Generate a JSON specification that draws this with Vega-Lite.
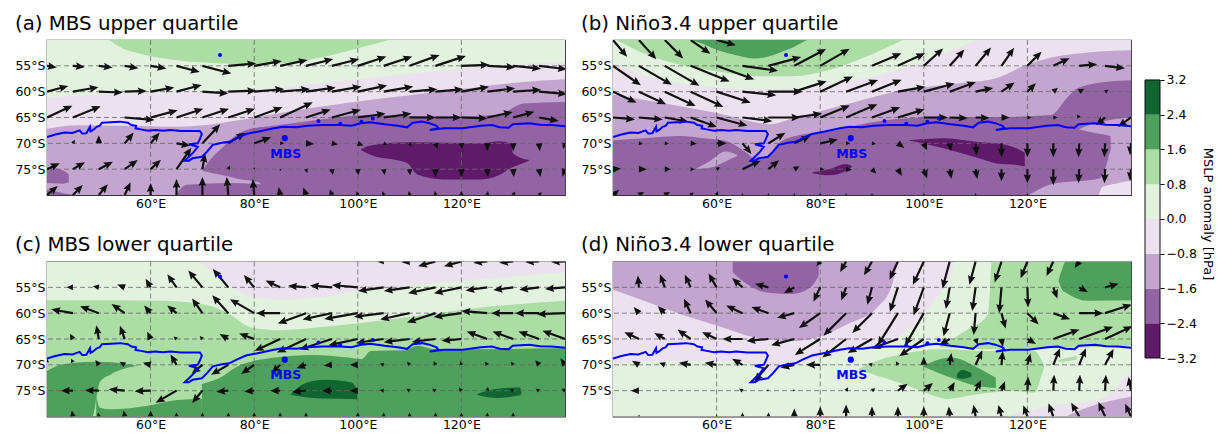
{"$schema":"https://vega.github.io/schema/vega-lite/v6.json","padding":{"left":14,"top":13,"right":2,"bottom":0},"background":"white","spacing":11,
"config":{"font":"DejaVu Sans","view":{"stroke":"#333","strokeWidth":1.2},"title":{"anchor":"start","fontSize":19.8,"fontWeight":"normal","offset":6,"color":"#000"},"axis":{"labelFontSize":12.5,"labelOverlap":false,"ticks":false,"domain":false,"grid":false,"labelColor":"#000"}},
"datasets":{
"coast":[{"i":0,"lon":40,"lat":-68.8},{"i":1,"lon":41.6,"lat":-68.3},{"i":2,"lon":43.4,"lat":-67.9},{"i":3,"lon":44.9,"lat":-68},{"i":4,"lon":46.3,"lat":-67.5},{"i":5,"lon":46.8,"lat":-68.1},{"i":6,"lon":47.6,"lat":-68.06},{"i":7,"lon":48.3,"lat":-66.8},{"i":8,"lon":48.4,"lat":-67.7},{"i":9,"lon":48.9,"lat":-67.4},{"i":10,"lon":49.6,"lat":-66.8},{"i":11,"lon":50.2,"lat":-66.6},{"i":12,"lon":50.6,"lat":-66},{"i":13,"lon":52.4,"lat":-65.9},{"i":14,"lon":54.1,"lat":-65.8},{"i":15,"lon":55.6,"lat":-66},{"i":16,"lon":56.3,"lat":-66.45},{"i":17,"lon":57.2,"lat":-66.6},{"i":18,"lon":57.1,"lat":-67.1},{"i":19,"lon":58.1,"lat":-67.3},{"i":20,"lon":59.5,"lat":-67.55},{"i":21,"lon":60.9,"lat":-67.4},{"i":22,"lon":62.4,"lat":-67.55},{"i":23,"lon":63.8,"lat":-67.4},{"i":24,"lon":65.9,"lat":-67.6},{"i":25,"lon":68.1,"lat":-67.6},{"i":26,"lon":69.5,"lat":-67.6},{"i":27,"lon":69.9,"lat":-68.2},{"i":28,"lon":69.5,"lat":-69.2},{"i":29,"lon":69.1,"lat":-70},{"i":30,"lon":67.4,"lat":-70.2},{"i":31,"lon":68.4,"lat":-70.45},{"i":32,"lon":69.1,"lat":-70.65},{"i":33,"lon":68.4,"lat":-71.6},{"i":34,"lon":67.4,"lat":-72.6},{"i":35,"lon":66.6,"lat":-73.35},{"i":36,"lon":67.4,"lat":-73.35},{"i":37,"lon":68.1,"lat":-72.9},{"i":38,"lon":69.9,"lat":-72.6},{"i":39,"lon":70.9,"lat":-71.6},{"i":40,"lon":72,"lat":-70.3},{"i":41,"lon":73.8,"lat":-69.9},{"i":42,"lon":75.2,"lat":-69.7},{"i":43,"lon":76.6,"lat":-69},{"i":44,"lon":78.4,"lat":-68.2},{"i":45,"lon":80.9,"lat":-67.7},{"i":46,"lon":83.8,"lat":-67.1},{"i":47,"lon":85.6,"lat":-66.8},{"i":48,"lon":88.1,"lat":-66.9},{"i":49,"lon":90.2,"lat":-66.6},{"i":50,"lon":93.1,"lat":-66.45},{"i":51,"lon":96.6,"lat":-66.45},{"i":52,"lon":98.8,"lat":-66.6},{"i":53,"lon":100.6,"lat":-66.1},{"i":54,"lon":102.4,"lat":-65.9},{"i":55,"lon":105.2,"lat":-66.3},{"i":56,"lon":107.7,"lat":-66.6},{"i":57,"lon":109.5,"lat":-66.9},{"i":58,"lon":110.6,"lat":-66},{"i":59,"lon":112.4,"lat":-65.8},{"i":60,"lon":113.8,"lat":-66.1},{"i":61,"lon":115.2,"lat":-66.6},{"i":62,"lon":115.6,"lat":-67.1},{"i":63,"lon":113.9,"lat":-67.4},{"i":64,"lon":116.6,"lat":-67.1},{"i":65,"lon":120.2,"lat":-67.1},{"i":66,"lon":123.8,"lat":-66.6},{"i":67,"lon":125.9,"lat":-66.45},{"i":68,"lon":127.4,"lat":-66.9},{"i":69,"lon":129.1,"lat":-67},{"i":70,"lon":129.9,"lat":-66.3},{"i":71,"lon":133.1,"lat":-66.1},{"i":72,"lon":135.2,"lat":-66.4},{"i":73,"lon":137.4,"lat":-66.45},{"i":74,"lon":140,"lat":-66.7}],
"isl":[{"lon":73.4,"lat":-52.9},{"lon":92.4,"lat":-65.7},{"lon":96.6,"lat":-66.2},{"lon":100.7,"lat":-65.8},{"lon":102.9,"lat":-65.2}],
"mbs":[{"lon":85.9,"lat":-69.0}],
"mbsl":[{"lon":86.1,"lat":-72.05,"label":"MBS"}],
"gx":[{"lon":60},{"lon":80},{"lon":100},{"lon":120}],
"gy":[{"lat":-55},{"lat":-60},{"lat":-65},{"lat":-70},{"lat":-75}],
"bar":[{"v":"n4","lo":-3.2,"hi":-2.4},{"v":"n3","lo":-2.4,"hi":-1.6},{"v":"n2","lo":-1.6,"hi":-0.8},{"v":"n1","lo":-0.8,"hi":0},{"v":"p1","lo":0,"hi":0.8},{"v":"p2","lo":0.8,"hi":1.6},{"v":"p3","lo":1.6,"hi":2.4},{"v":"p4","lo":2.4,"hi":3.2}],
"frame":[{"lo":-3.2,"hi":3.2}],
"fa":[{"r":1,"v":"p1","lon":40,"lat":-50,"lat2":-80},{"r":1,"v":"p1","lon":140,"lat":-50,"lat2":-80},
{"r":2,"v":"p2","lon":52,"lat":-50,"lat2":-50},{"r":2,"v":"p2","lon":54,"lat":-50,"lat2":-51.3},{"r":2,"v":"p2","lon":59,"lat":-50,"lat2":-52.9},{"r":2,"v":"p2","lon":66,"lat":-50,"lat2":-54},{"r":2,"v":"p2","lon":73,"lat":-50,"lat2":-54.5},{"r":2,"v":"p2","lon":80,"lat":-50,"lat2":-54.7},{"r":2,"v":"p2","lon":88,"lat":-50,"lat2":-54.2},{"r":2,"v":"p2","lon":95,"lat":-50,"lat2":-52.9},{"r":2,"v":"p2","lon":100,"lat":-50,"lat2":-51.6},{"r":2,"v":"p2","lon":106,"lat":-50,"lat2":-50},
{"r":3,"v":"n1","lon":40,"lat":-61.2,"lat2":-80},{"r":3,"v":"n1","lon":50,"lat":-60.5,"lat2":-80},{"r":3,"v":"n1","lon":60,"lat":-60.2,"lat2":-80},{"r":3,"v":"n1","lon":70,"lat":-60,"lat2":-80},{"r":3,"v":"n1","lon":81,"lat":-59.5,"lat2":-80},{"r":3,"v":"n1","lon":90,"lat":-58.6,"lat2":-80},{"r":3,"v":"n1","lon":102,"lat":-57.4,"lat2":-80},{"r":3,"v":"n1","lon":120,"lat":-55.5,"lat2":-80},{"r":3,"v":"n1","lon":130,"lat":-54.7,"lat2":-80},{"r":3,"v":"n1","lon":140,"lat":-54.2,"lat2":-80},
{"r":4,"v":"n2","lon":40,"lat":-67.2,"lat2":-80},{"r":4,"v":"n2","lon":46,"lat":-66.5,"lat2":-80},{"r":4,"v":"n2","lon":55,"lat":-66.6,"lat2":-80},{"r":4,"v":"n2","lon":65,"lat":-66.8,"lat2":-80},{"r":4,"v":"n2","lon":72,"lat":-66.3,"lat2":-80},{"r":4,"v":"n2","lon":80,"lat":-65,"lat2":-80},{"r":4,"v":"n2","lon":90,"lat":-63.3,"lat2":-80},{"r":4,"v":"n2","lon":100,"lat":-61.9,"lat2":-80},{"r":4,"v":"n2","lon":110,"lat":-60.7,"lat2":-80},{"r":4,"v":"n2","lon":120,"lat":-59.5,"lat2":-80},{"r":4,"v":"n2","lon":130,"lat":-58.3,"lat2":-80},{"r":4,"v":"n2","lon":140,"lat":-57.6,"lat2":-80},
{"r":5,"v":"n3","lon":70,"lat":-75.2,"lat2":-75.3},{"r":5,"v":"n3","lon":72,"lat":-72.6,"lat2":-75.8},{"r":5,"v":"n3","lon":74,"lat":-70.7,"lat2":-76.2},{"r":5,"v":"n3","lon":77,"lat":-68.1,"lat2":-76.9},{"r":5,"v":"n3","lon":81,"lat":-66.9,"lat2":-77.6},{"r":5,"v":"n3","lon":82,"lat":-66.8,"lat2":-80},{"r":5,"v":"n3","lon":92,"lat":-65.5,"lat2":-80},{"r":5,"v":"n3","lon":102,"lat":-64.5,"lat2":-80},{"r":5,"v":"n3","lon":116,"lat":-64.8,"lat2":-80},{"r":5,"v":"n3","lon":127,"lat":-64.5,"lat2":-80},{"r":5,"v":"n3","lon":132,"lat":-62.3,"lat2":-80},{"r":5,"v":"n3","lon":140,"lat":-62,"lat2":-80},
{"r":6,"v":"n3","lon":65,"lat":-79.7,"lat2":-80},{"r":6,"v":"n3","lon":67,"lat":-78,"lat2":-80},{"r":6,"v":"n3","lon":75,"lat":-77.7,"lat2":-80},{"r":6,"v":"n3","lon":82,"lat":-78,"lat2":-80},
{"r":7,"v":"n3","lon":40,"lat":-74.7,"lat2":-77.7},{"r":7,"v":"n3","lon":43,"lat":-75.2,"lat2":-77.8},{"r":7,"v":"n3","lon":44.2,"lat":-76,"lat2":-77.6},
{"r":8,"v":"n3","lon":40,"lat":-79,"lat2":-80},{"r":8,"v":"n3","lon":45,"lat":-80,"lat2":-80},
{"r":9,"v":"n4","lon":100.6,"lat":-71.2,"lat2":-71.3},{"r":9,"v":"n4","lon":102.4,"lat":-70.4,"lat2":-72.2},{"r":9,"v":"n4","lon":109.5,"lat":-69.8,"lat2":-73.8},{"r":9,"v":"n4","lon":111.6,"lat":-69.8,"lat2":-76.1},{"r":9,"v":"n4","lon":116.6,"lat":-69.9,"lat2":-77},{"r":9,"v":"n4","lon":123.8,"lat":-70,"lat2":-77},{"r":9,"v":"n4","lon":127.4,"lat":-69.6,"lat2":-76.1},{"r":9,"v":"n4","lon":129.5,"lat":-70.1,"lat2":-74.8},{"r":9,"v":"n4","lon":130,"lat":-72,"lat2":-74.6},{"r":9,"v":"n4","lon":133,"lat":-73.2,"lat2":-73.4}],
"fb":[{"r":1,"v":"n1","lon":40,"lat":-50,"lat2":-80},{"r":1,"v":"n1","lon":140,"lat":-50,"lat2":-80},
{"r":2,"v":"p1","lon":40,"lat":-50,"lat2":-54.5},{"r":2,"v":"p1","lon":46,"lat":-50,"lat2":-56.8},{"r":2,"v":"p1","lon":53.1,"lat":-50,"lat2":-58.4},{"r":2,"v":"p1","lon":60.3,"lat":-50,"lat2":-59.2},{"r":2,"v":"p1","lon":67.4,"lat":-50,"lat2":-59.6},{"r":2,"v":"p1","lon":74.6,"lat":-50,"lat2":-59.4},{"r":2,"v":"p1","lon":81.7,"lat":-50,"lat2":-58.5},{"r":2,"v":"p1","lon":88.9,"lat":-50,"lat2":-57.4},{"r":2,"v":"p1","lon":96,"lat":-50,"lat2":-55.5},{"r":2,"v":"p1","lon":103.1,"lat":-50,"lat2":-52.9},{"r":2,"v":"p1","lon":110.3,"lat":-50,"lat2":-50},
{"r":3,"v":"p2","lon":40.6,"lat":-50,"lat2":-50},{"r":3,"v":"p2","lon":46,"lat":-50,"lat2":-52.6},{"r":3,"v":"p2","lon":53,"lat":-50,"lat2":-54.8},{"r":3,"v":"p2","lon":60.3,"lat":-50,"lat2":-56.1},{"r":3,"v":"p2","lon":67.4,"lat":-50,"lat2":-57},{"r":3,"v":"p2","lon":74.6,"lat":-50,"lat2":-57},{"r":3,"v":"p2","lon":81.7,"lat":-50,"lat2":-55.8},{"r":3,"v":"p2","lon":88.9,"lat":-50,"lat2":-53.2},{"r":3,"v":"p2","lon":96,"lat":-50,"lat2":-50},
{"r":4,"v":"p3","lon":55.3,"lat":-50,"lat2":-50},{"r":4,"v":"p3","lon":58,"lat":-50,"lat2":-51},{"r":4,"v":"p3","lon":60.3,"lat":-50,"lat2":-52},{"r":4,"v":"p3","lon":64,"lat":-50,"lat2":-53},{"r":4,"v":"p3","lon":67.4,"lat":-50,"lat2":-53.6},{"r":4,"v":"p3","lon":70,"lat":-50,"lat2":-53.2},{"r":4,"v":"p3","lon":72,"lat":-50,"lat2":-52.5},{"r":4,"v":"p3","lon":75,"lat":-50,"lat2":-51.3},{"r":4,"v":"p3","lon":77.4,"lat":-50,"lat2":-50},
{"r":5,"v":"n2","lon":40,"lat":-60.6,"lat2":-80},{"r":5,"v":"n2","lon":53,"lat":-62.8,"lat2":-80},{"r":5,"v":"n2","lon":60.3,"lat":-64.2,"lat2":-80},{"r":5,"v":"n2","lon":67.4,"lat":-65.9,"lat2":-80},{"r":5,"v":"n2","lon":70.3,"lat":-66.3,"lat2":-80},{"r":5,"v":"n2","lon":74.6,"lat":-65.2,"lat2":-80},{"r":5,"v":"n2","lon":85.3,"lat":-62.4,"lat2":-80},{"r":5,"v":"n2","lon":96,"lat":-59.7,"lat2":-80},{"r":5,"v":"n2","lon":106.7,"lat":-58.4,"lat2":-80},{"r":5,"v":"n2","lon":113.9,"lat":-57.4,"lat2":-80},{"r":5,"v":"n2","lon":118.9,"lat":-55.2,"lat2":-80},{"r":5,"v":"n2","lon":124.6,"lat":-53.4,"lat2":-80},{"r":5,"v":"n2","lon":131.7,"lat":-52.4,"lat2":-80},{"r":5,"v":"n2","lon":140,"lat":-52,"lat2":-80},
{"r":6,"v":"n3","lon":40,"lat":-69.4,"lat2":-80},{"r":6,"v":"n3","lon":46,"lat":-69,"lat2":-80},{"r":6,"v":"n3","lon":53,"lat":-68.6,"lat2":-80},{"r":6,"v":"n3","lon":57.5,"lat":-69,"lat2":-80},{"r":6,"v":"n3","lon":62,"lat":-69.6,"lat2":-80},{"r":6,"v":"n3","lon":63.8,"lat":-70.5,"lat2":-80},{"r":6,"v":"n3","lon":66,"lat":-72,"lat2":-80},{"r":6,"v":"n3","lon":67.4,"lat":-73,"lat2":-80},{"r":6,"v":"n3","lon":70,"lat":-72.5,"lat2":-80},{"r":6,"v":"n3","lon":71.7,"lat":-70.2,"lat2":-80},{"r":6,"v":"n3","lon":76,"lat":-68.4,"lat2":-80},{"r":6,"v":"n3","lon":81.7,"lat":-67.7,"lat2":-80},{"r":6,"v":"n3","lon":88.9,"lat":-66.1,"lat2":-80},{"r":6,"v":"n3","lon":96,"lat":-65.2,"lat2":-80},{"r":6,"v":"n3","lon":103,"lat":-64.9,"lat2":-80},{"r":6,"v":"n3","lon":113.9,"lat":-64.9,"lat2":-80},{"r":6,"v":"n3","lon":124.6,"lat":-64.5,"lat2":-80},{"r":6,"v":"n3","lon":127.4,"lat":-61.5,"lat2":-80},{"r":6,"v":"n3","lon":129.6,"lat":-59.4,"lat2":-80},{"r":6,"v":"n3","lon":135.3,"lat":-58.1,"lat2":-80},{"r":6,"v":"n3","lon":140,"lat":-57.8,"lat2":-80},
{"r":7,"v":"n2","lon":129.9,"lat":-67.3,"lat2":-67.3},{"r":7,"v":"n2","lon":133.1,"lat":-66,"lat2":-68},{"r":7,"v":"n2","lon":136,"lat":-65.5,"lat2":-68.6},{"r":7,"v":"n2","lon":136.4,"lat":-65.4,"lat2":-80},{"r":7,"v":"n2","lon":140,"lat":-65,"lat2":-80},
{"r":8,"v":"n2","lon":120.3,"lat":-80,"lat2":-80},{"r":8,"v":"n2","lon":124.6,"lat":-77.9,"lat2":-80},{"r":8,"v":"n2","lon":133.9,"lat":-76.8,"lat2":-80},{"r":8,"v":"n2","lon":135,"lat":-75,"lat2":-80},{"r":8,"v":"n2","lon":136,"lat":-71.5,"lat2":-80},{"r":8,"v":"n2","lon":136.5,"lat":-70,"lat2":-80},
{"r":9,"v":"n1","lon":133.8,"lat":-80,"lat2":-80},{"r":9,"v":"n1","lon":134.5,"lat":-78.4,"lat2":-80},{"r":9,"v":"n1","lon":137,"lat":-77.8,"lat2":-80},{"r":9,"v":"n1","lon":140,"lat":-77.2,"lat2":-80},
{"r":10,"v":"n2","lon":56,"lat":-74.9,"lat2":-75},{"r":10,"v":"n2","lon":58.9,"lat":-73.3,"lat2":-74.7},{"r":10,"v":"n2","lon":61.7,"lat":-71.6,"lat2":-73.5},{"r":10,"v":"n2","lon":63.9,"lat":-72.2,"lat2":-72.5},
{"r":11,"v":"n4","lon":97,"lat":-69.4,"lat2":-69.4},{"r":11,"v":"n4","lon":104,"lat":-69,"lat2":-71},{"r":11,"v":"n4","lon":111,"lat":-69.8,"lat2":-73},{"r":11,"v":"n4","lon":114,"lat":-70,"lat2":-73.9},{"r":11,"v":"n4","lon":118,"lat":-71,"lat2":-74.2},{"r":11,"v":"n4","lon":119.5,"lat":-71.8,"lat2":-74.5},
{"r":12,"v":"n4","lon":78.5,"lat":-75.6,"lat2":-75.8},{"r":12,"v":"n4","lon":81.7,"lat":-75,"lat2":-76.2},{"r":12,"v":"n4","lon":85,"lat":-74,"lat2":-75.3},{"r":12,"v":"n4","lon":86.1,"lat":-74.4,"lat2":-74.6}],
"fc":[{"r":1,"v":"p2","lon":40,"lat":-50,"lat2":-80},{"r":1,"v":"p2","lon":140,"lat":-50,"lat2":-80},
{"r":2,"v":"p1","lon":40,"lat":-50,"lat2":-57.5},{"r":2,"v":"p1","lon":52.4,"lat":-50,"lat2":-57.5},{"r":2,"v":"p1","lon":63.1,"lat":-50,"lat2":-57.6},{"r":2,"v":"p1","lon":71.6,"lat":-50,"lat2":-58.6},{"r":2,"v":"p1","lon":75.2,"lat":-50,"lat2":-60.2},{"r":2,"v":"p1","lon":79.5,"lat":-50,"lat2":-62.8},{"r":2,"v":"p1","lon":84.5,"lat":-50,"lat2":-63.3},{"r":2,"v":"p1","lon":95.2,"lat":-50,"lat2":-62.5},{"r":2,"v":"p1","lon":109.5,"lat":-50,"lat2":-60.8},{"r":2,"v":"p1","lon":123.8,"lat":-50,"lat2":-58.9},{"r":2,"v":"p1","lon":140,"lat":-50,"lat2":-57.6},
{"r":3,"v":"n1","lon":69.5,"lat":-50,"lat2":-50},{"r":3,"v":"n1","lon":73.8,"lat":-50,"lat2":-53.7},{"r":3,"v":"n1","lon":78.1,"lat":-50,"lat2":-56.3},{"r":3,"v":"n1","lon":84.5,"lat":-50,"lat2":-57.4},{"r":3,"v":"n1","lon":91.6,"lat":-50,"lat2":-57},{"r":3,"v":"n1","lon":102.4,"lat":-50,"lat2":-55.3},{"r":3,"v":"n1","lon":113.1,"lat":-50,"lat2":-54.4},{"r":3,"v":"n1","lon":123.8,"lat":-50,"lat2":-53.4},{"r":3,"v":"n1","lon":140,"lat":-50,"lat2":-52.1},
{"r":4,"v":"p3","lon":40,"lat":-71.2,"lat2":-80},{"r":4,"v":"p3","lon":43.1,"lat":-69.9,"lat2":-80},{"r":4,"v":"p3","lon":48.8,"lat":-69.4,"lat2":-80},{"r":4,"v":"p3","lon":49.6,"lat":-69.4,"lat2":-76},{"r":4,"v":"p3","lon":50.2,"lat":-69.4,"lat2":-73.3},{"r":4,"v":"p3","lon":52.4,"lat":-69.5,"lat2":-71.8},{"r":4,"v":"p3","lon":57.4,"lat":-70.2,"lat2":-70.2},
{"r":5,"v":"p3","lon":49.5,"lat":-76,"lat2":-80},{"r":5,"v":"p3","lon":50.2,"lat":-78.3,"lat2":-80},{"r":5,"v":"p3","lon":52.4,"lat":-78.6,"lat2":-80},{"r":5,"v":"p3","lon":59.5,"lat":-77.9,"lat2":-80},{"r":5,"v":"p3","lon":65.2,"lat":-76.8,"lat2":-80},{"r":5,"v":"p3","lon":69.9,"lat":-76.6,"lat2":-80},
{"r":6,"v":"p3","lon":69.9,"lat":-73.7,"lat2":-80},{"r":6,"v":"p3","lon":73.4,"lat":-72.5,"lat2":-80},{"r":6,"v":"p3","lon":77,"lat":-70.2,"lat2":-80},{"r":6,"v":"p3","lon":84,"lat":-68.6,"lat2":-80},{"r":6,"v":"p3","lon":91.2,"lat":-68.1,"lat2":-80},{"r":6,"v":"p3","lon":98.2,"lat":-68.6,"lat2":-80},{"r":6,"v":"p3","lon":100.7,"lat":-68.9,"lat2":-80},{"r":6,"v":"p3","lon":102.5,"lat":-67.3,"lat2":-80},{"r":6,"v":"p3","lon":109,"lat":-67.2,"lat2":-80},{"r":6,"v":"p3","lon":111.5,"lat":-66.3,"lat2":-80},{"r":6,"v":"p3","lon":115,"lat":-67,"lat2":-80},{"r":6,"v":"p3","lon":140,"lat":-66.8,"lat2":-80},
{"r":7,"v":"p4","lon":87,"lat":-75.7,"lat2":-75.8},{"r":7,"v":"p4","lon":90.2,"lat":-73.4,"lat2":-76.3},{"r":7,"v":"p4","lon":93.8,"lat":-72.9,"lat2":-76.5},{"r":7,"v":"p4","lon":98.8,"lat":-73.4,"lat2":-76.6},{"r":7,"v":"p4","lon":99.9,"lat":-74.9,"lat2":-76.7},
{"r":8,"v":"p4","lon":123,"lat":-75.7,"lat2":-75.8},{"r":8,"v":"p4","lon":126.6,"lat":-74.7,"lat2":-76.4},{"r":8,"v":"p4","lon":131.3,"lat":-74.4,"lat2":-75.9},{"r":8,"v":"p4","lon":131.6,"lat":-75.3,"lat2":-75.4}],
"fd":[{"r":1,"v":"n1","lon":40,"lat":-50,"lat2":-80},{"r":1,"v":"n1","lon":140,"lat":-50,"lat2":-80},
{"r":2,"v":"n2","lon":40,"lat":-50,"lat2":-55.4},{"r":2,"v":"n2","lon":46,"lat":-50,"lat2":-57.6},{"r":2,"v":"n2","lon":53.1,"lat":-50,"lat2":-60.2},{"r":2,"v":"n2","lon":60.3,"lat":-50,"lat2":-62.5},{"r":2,"v":"n2","lon":67.4,"lat":-50,"lat2":-64.7},{"r":2,"v":"n2","lon":74.6,"lat":-50,"lat2":-65.4},{"r":2,"v":"n2","lon":80.3,"lat":-50,"lat2":-64.4},{"r":2,"v":"n2","lon":85.3,"lat":-50,"lat2":-62.1},{"r":2,"v":"n2","lon":91,"lat":-50,"lat2":-58.9},{"r":2,"v":"n2","lon":93.9,"lat":-50,"lat2":-54.4},{"r":2,"v":"n2","lon":95,"lat":-50,"lat2":-50},
{"r":3,"v":"n3","lon":63.1,"lat":-50,"lat2":-52.1},{"r":3,"v":"n3","lon":65.9,"lat":-50,"lat2":-54.4},{"r":3,"v":"n3","lon":69.6,"lat":-50,"lat2":-56},{"r":3,"v":"n3","lon":74.6,"lat":-50,"lat2":-56.3},{"r":3,"v":"n3","lon":78.1,"lat":-50,"lat2":-55},{"r":3,"v":"n3","lon":79.7,"lat":-50,"lat2":-52.8},
{"r":4,"v":"p1","lon":40,"lat":-69.7,"lat2":-80},{"r":4,"v":"p1","lon":53,"lat":-69.2,"lat2":-80},{"r":4,"v":"p1","lon":60,"lat":-69.2,"lat2":-80},{"r":4,"v":"p1","lon":66,"lat":-69.6,"lat2":-80},{"r":4,"v":"p1","lon":70,"lat":-71.5,"lat2":-80},{"r":4,"v":"p1","lon":72,"lat":-70.9,"lat2":-80},{"r":4,"v":"p1","lon":76,"lat":-69.9,"lat2":-80},{"r":4,"v":"p1","lon":80.3,"lat":-68.6,"lat2":-80},{"r":4,"v":"p1","lon":85.3,"lat":-67.3,"lat2":-80},{"r":4,"v":"p1","lon":90,"lat":-66.3,"lat2":-80},{"r":4,"v":"p1","lon":94,"lat":-65.4,"lat2":-80},{"r":4,"v":"p1","lon":97,"lat":-63.1,"lat2":-80},{"r":4,"v":"p1","lon":99.9,"lat":-60.2,"lat2":-80},{"r":4,"v":"p1","lon":102.7,"lat":-56.6,"lat2":-80},{"r":4,"v":"p1","lon":105,"lat":-53.1,"lat2":-80},{"r":4,"v":"p1","lon":106,"lat":-50,"lat2":-80},{"r":4,"v":"p1","lon":140,"lat":-50,"lat2":-80},
{"r":5,"v":"n1","lon":115.8,"lat":-80,"lat2":-80},{"r":5,"v":"n1","lon":124.6,"lat":-77.9,"lat2":-80},{"r":5,"v":"n1","lon":133.1,"lat":-76.8,"lat2":-80},{"r":5,"v":"n1","lon":136.7,"lat":-75,"lat2":-80},{"r":5,"v":"n1","lon":138.1,"lat":-73.1,"lat2":-80},{"r":5,"v":"n1","lon":140,"lat":-71.8,"lat2":-80},
{"r":6,"v":"n2","lon":127.4,"lat":-80,"lat2":-80},{"r":6,"v":"n2","lon":131.7,"lat":-78.2,"lat2":-80},{"r":6,"v":"n2","lon":140,"lat":-76.2,"lat2":-80},
{"r":7,"v":"p2","lon":103.1,"lat":-66.3,"lat2":-66.6},{"r":7,"v":"p2","lon":108.1,"lat":-63.4,"lat2":-66.8},{"r":7,"v":"p2","lon":112.4,"lat":-60.2,"lat2":-67},{"r":7,"v":"p2","lon":112.8,"lat":-55,"lat2":-67},{"r":7,"v":"p2","lon":113.1,"lat":-50,"lat2":-67},{"r":7,"v":"p2","lon":140,"lat":-50,"lat2":-66.3},
{"r":8,"v":"p2","lon":87.4,"lat":-70.8,"lat2":-70.9},{"r":8,"v":"p2","lon":91,"lat":-69.2,"lat2":-72.1},{"r":8,"v":"p2","lon":96,"lat":-67.9,"lat2":-73.7},{"r":8,"v":"p2","lon":103.1,"lat":-67,"lat2":-76.3},{"r":8,"v":"p2","lon":104.6,"lat":-67,"lat2":-76.6},{"r":8,"v":"p2","lon":110.3,"lat":-67.3,"lat2":-75.7},{"r":8,"v":"p2","lon":117.4,"lat":-67.3,"lat2":-75},{"r":8,"v":"p2","lon":121.4,"lat":-67.3,"lat2":-75.4},{"r":8,"v":"p2","lon":122.8,"lat":-69.2,"lat2":-71.8},{"r":8,"v":"p2","lon":123.2,"lat":-70,"lat2":-70.6},
{"r":9,"v":"p2","lon":126,"lat":-69,"lat2":-69.5},{"r":9,"v":"p2","lon":129.5,"lat":-68.3,"lat2":-69},
{"r":10,"v":"p3","lon":126,"lat":-53.7,"lat2":-53.7},{"r":10,"v":"p3","lon":126.7,"lat":-51.5,"lat2":-55.5},{"r":10,"v":"p3","lon":127.4,"lat":-50,"lat2":-56},{"r":10,"v":"p3","lon":131.7,"lat":-50,"lat2":-57.6},{"r":10,"v":"p3","lon":140,"lat":-50,"lat2":-57.5},
{"r":11,"v":"p3","lon":99.9,"lat":-70.2,"lat2":-70.3},{"r":11,"v":"p3","lon":105.3,"lat":-68.6,"lat2":-72.5},{"r":11,"v":"p3","lon":110.3,"lat":-70.5,"lat2":-74.1},{"r":11,"v":"p3","lon":113.9,"lat":-72.5,"lat2":-74.5},
{"r":12,"v":"p4","lon":106.4,"lat":-71.8,"lat2":-72.5},{"r":12,"v":"p4","lon":107.4,"lat":-71,"lat2":-72.7},{"r":12,"v":"p4","lon":109.2,"lat":-71.6,"lat2":-72.3}],
"qa":[{"lon":40,"lat":-55,"ang":100,"len":10},{"lon":45,"lat":-55,"ang":95,"len":12},{"lon":50,"lat":-55,"ang":97,"len":14},{"lon":55,"lat":-55,"ang":100,"len":14},{"lon":60,"lat":-55,"ang":100,"len":16},{"lon":65,"lat":-55,"ang":105,"len":24},{"lon":70,"lat":-55,"ang":105,"len":30},{"lon":75,"lat":-55,"ang":85,"len":28},{"lon":80,"lat":-55,"ang":80,"len":28},{"lon":85,"lat":-55,"ang":78,"len":28},{"lon":90,"lat":-55,"ang":76,"len":28},{"lon":95,"lat":-55,"ang":76,"len":28},{"lon":100,"lat":-55,"ang":72,"len":30},{"lon":105,"lat":-55,"ang":72,"len":30},{"lon":110,"lat":-55,"ang":70,"len":32},{"lon":115,"lat":-55,"ang":72,"len":32},{"lon":120,"lat":-55,"ang":88,"len":28},{"lon":125,"lat":-55,"ang":93,"len":28},{"lon":130,"lat":-55,"ang":96,"len":28},{"lon":135,"lat":-55,"ang":97,"len":28},
{"lon":40,"lat":-60,"ang":75,"len":22},{"lon":45,"lat":-60,"ang":80,"len":26},{"lon":50,"lat":-60,"ang":92,"len":24},{"lon":55,"lat":-60,"ang":88,"len":22},{"lon":60,"lat":-60,"ang":80,"len":24},{"lon":65,"lat":-60,"ang":75,"len":26},{"lon":70,"lat":-60,"ang":94,"len":26},{"lon":75,"lat":-60,"ang":88,"len":28},{"lon":80,"lat":-60,"ang":85,"len":30},{"lon":85,"lat":-60,"ang":85,"len":30},{"lon":90,"lat":-60,"ang":82,"len":30},{"lon":95,"lat":-60,"ang":80,"len":30},{"lon":100,"lat":-60,"ang":78,"len":30},{"lon":105,"lat":-60,"ang":80,"len":30},{"lon":110,"lat":-60,"ang":85,"len":28},{"lon":115,"lat":-60,"ang":85,"len":28},{"lon":120,"lat":-60,"ang":80,"len":28},{"lon":125,"lat":-60,"ang":83,"len":28},{"lon":130,"lat":-60,"ang":86,"len":28},{"lon":135,"lat":-60,"ang":95,"len":28},
{"lon":40,"lat":-65,"ang":65,"len":28},{"lon":45,"lat":-65,"ang":68,"len":30},{"lon":55,"lat":-65,"ang":95,"len":30},{"lon":60,"lat":-65,"ang":75,"len":28},{"lon":65,"lat":-65,"ang":72,"len":28},{"lon":70,"lat":-65,"ang":72,"len":28},{"lon":75,"lat":-65,"ang":72,"len":28},{"lon":80,"lat":-65,"ang":70,"len":30},{"lon":85,"lat":-65,"ang":65,"len":36},{"lon":90,"lat":-65,"ang":72,"len":26},{"lon":95,"lat":-65,"ang":75,"len":30},{"lon":100,"lat":-65,"ang":82,"len":28},{"lon":105,"lat":-65,"ang":82,"len":28},{"lon":110,"lat":-65,"ang":90,"len":26},{"lon":115,"lat":-65,"ang":90,"len":26},{"lon":120,"lat":-65,"ang":92,"len":26},{"lon":125,"lat":-65,"ang":78,"len":26},{"lon":130,"lat":-65,"ang":75,"len":22},{"lon":135,"lat":-65,"ang":100,"len":20},
{"lon":45,"lat":-70,"ang":30,"len":4},{"lon":50,"lat":-70,"ang":0,"len":8},{"lon":55,"lat":-70,"ang":40,"len":14},{"lon":60,"lat":-70,"ang":40,"len":14},{"lon":65,"lat":-70,"ang":100,"len":14},{"lon":70,"lat":-70,"ang":43,"len":26},{"lon":75,"lat":-70,"ang":58,"len":20},{"lon":80,"lat":-70,"ang":70,"len":18},{"lon":85,"lat":-70,"ang":90,"len":4},{"lon":90,"lat":-70,"ang":95,"len":8},{"lon":95,"lat":-70,"ang":100,"len":6},{"lon":100,"lat":-70,"ang":110,"len":6},{"lon":105,"lat":-70,"ang":110,"len":4},{"lon":110,"lat":-70,"ang":150,"len":4},{"lon":115,"lat":-70,"ang":160,"len":6},{"lon":120,"lat":-70,"ang":175,"len":6},{"lon":125,"lat":-70,"ang":180,"len":8},{"lon":130,"lat":-70,"ang":180,"len":8},{"lon":135,"lat":-70,"ang":175,"len":8},{"lon":140,"lat":-70,"ang":200,"len":6},
{"lon":40,"lat":-75,"ang":65,"len":14},{"lon":45,"lat":-75,"ang":60,"len":14},{"lon":50,"lat":-75,"ang":62,"len":16},{"lon":55,"lat":-75,"ang":55,"len":16},{"lon":60,"lat":-75,"ang":48,"len":14},{"lon":65,"lat":-75,"ang":35,"len":26},{"lon":70,"lat":-75,"ang":10,"len":16},{"lon":75,"lat":-75,"ang":25,"len":4},{"lon":80,"lat":-75,"ang":5,"len":2},{"lon":85,"lat":-75,"ang":150,"len":2},{"lon":90,"lat":-75,"ang":160,"len":4},{"lon":95,"lat":-75,"ang":170,"len":6},{"lon":100,"lat":-75,"ang":175,"len":6},{"lon":105,"lat":-75,"ang":170,"len":6},{"lon":110,"lat":-75,"ang":175,"len":6},{"lon":115,"lat":-75,"ang":180,"len":8},{"lon":120,"lat":-75,"ang":180,"len":8},{"lon":125,"lat":-75,"ang":175,"len":8},{"lon":130,"lat":-75,"ang":175,"len":8},{"lon":135,"lat":-75,"ang":170,"len":8},{"lon":140,"lat":-75,"ang":200,"len":8},
{"lon":40,"lat":-80,"ang":50,"len":14},{"lon":45,"lat":-80,"ang":45,"len":14},{"lon":50,"lat":-80,"ang":40,"len":14},{"lon":55,"lat":-80,"ang":25,"len":14},{"lon":60,"lat":-80,"ang":0,"len":12},{"lon":65,"lat":-80,"ang":0,"len":16},{"lon":70,"lat":-80,"ang":0,"len":18},{"lon":75,"lat":-80,"ang":355,"len":18},{"lon":80,"lat":-80,"ang":355,"len":16},{"lon":85,"lat":-80,"ang":350,"len":8},{"lon":90,"lat":-80,"ang":340,"len":8},{"lon":95,"lat":-80,"ang":340,"len":6},{"lon":100,"lat":-80,"ang":340,"len":4},{"lon":105,"lat":-80,"ang":340,"len":4},{"lon":110,"lat":-80,"ang":350,"len":4},{"lon":115,"lat":-80,"ang":350,"len":4},{"lon":120,"lat":-80,"ang":0,"len":4},{"lon":125,"lat":-80,"ang":10,"len":4},{"lon":130,"lat":-80,"ang":30,"len":4},{"lon":135,"lat":-80,"ang":40,"len":4}],
"qb":[{"lon":40,"lat":-50,"ang":140,"len":22},{"lon":45,"lat":-50,"ang":138,"len":26},{"lon":50,"lat":-50,"ang":135,"len":26},{"lon":55,"lat":-50,"ang":125,"len":24},{"lon":60,"lat":-50,"ang":105,"len":20},
{"lon":40,"lat":-55,"ang":125,"len":34},{"lon":45,"lat":-55,"ang":120,"len":38},{"lon":50,"lat":-55,"ang":120,"len":40},{"lon":55,"lat":-55,"ang":112,"len":42},{"lon":60,"lat":-55,"ang":110,"len":40},{"lon":65,"lat":-55,"ang":98,"len":36},{"lon":70,"lat":-55,"ang":75,"len":34},{"lon":75,"lat":-55,"ang":62,"len":36},{"lon":80,"lat":-55,"ang":60,"len":34},{"lon":90,"lat":-55,"ang":67,"len":32},{"lon":95,"lat":-55,"ang":65,"len":30},{"lon":100,"lat":-55,"ang":48,"len":26},{"lon":105,"lat":-55,"ang":42,"len":22},{"lon":110,"lat":-55,"ang":40,"len":24},{"lon":115,"lat":-55,"ang":35,"len":22},{"lon":120,"lat":-55,"ang":45,"len":20},{"lon":125,"lat":-55,"ang":65,"len":18},{"lon":130,"lat":-55,"ang":85,"len":18},{"lon":135,"lat":-55,"ang":97,"len":20},
{"lon":40,"lat":-60,"ang":115,"len":26},{"lon":45,"lat":-60,"ang":115,"len":30},{"lon":50,"lat":-60,"ang":115,"len":34},{"lon":55,"lat":-60,"ang":115,"len":36},{"lon":60,"lat":-60,"ang":108,"len":36},{"lon":65,"lat":-60,"ang":96,"len":34},{"lon":70,"lat":-60,"ang":90,"len":34},{"lon":75,"lat":-60,"ang":72,"len":34},{"lon":80,"lat":-60,"ang":65,"len":36},{"lon":85,"lat":-60,"ang":70,"len":34},{"lon":90,"lat":-60,"ang":68,"len":32},{"lon":95,"lat":-60,"ang":80,"len":28},{"lon":100,"lat":-60,"ang":75,"len":32},{"lon":105,"lat":-60,"ang":70,"len":28},{"lon":110,"lat":-60,"ang":78,"len":18},{"lon":115,"lat":-60,"ang":55,"len":16},{"lon":120,"lat":-60,"ang":45,"len":12},{"lon":125,"lat":-60,"ang":50,"len":6},{"lon":130,"lat":-60,"ang":60,"len":6},{"lon":135,"lat":-60,"ang":60,"len":4},
{"lon":40,"lat":-65,"ang":95,"len":22},{"lon":45,"lat":-65,"ang":95,"len":24},{"lon":50,"lat":-65,"ang":100,"len":24},{"lon":55,"lat":-65,"ang":110,"len":28},{"lon":60,"lat":-65,"ang":105,"len":32},{"lon":65,"lat":-65,"ang":97,"len":30},{"lon":70,"lat":-65,"ang":90,"len":32},{"lon":75,"lat":-65,"ang":82,"len":28},{"lon":80,"lat":-65,"ang":68,"len":32},{"lon":85,"lat":-65,"ang":67,"len":34},{"lon":90,"lat":-65,"ang":70,"len":30},{"lon":95,"lat":-65,"ang":73,"len":28},{"lon":100,"lat":-65,"ang":90,"len":24},{"lon":105,"lat":-65,"ang":92,"len":18},{"lon":110,"lat":-65,"ang":92,"len":14},{"lon":115,"lat":-65,"ang":90,"len":8},{"lon":120,"lat":-65,"ang":95,"len":4},{"lon":125,"lat":-65,"ang":90,"len":4},{"lon":130,"lat":-65,"ang":320,"len":4},{"lon":135,"lat":-65,"ang":230,"len":12},{"lon":140,"lat":-65,"ang":235,"len":16},
{"lon":45,"lat":-70,"ang":100,"len":4},{"lon":50,"lat":-70,"ang":95,"len":4},{"lon":55,"lat":-70,"ang":95,"len":6},{"lon":60,"lat":-70,"ang":90,"len":10},{"lon":65,"lat":-70,"ang":140,"len":14},{"lon":70,"lat":-70,"ang":58,"len":20},{"lon":75,"lat":-70,"ang":65,"len":18},{"lon":80,"lat":-70,"ang":78,"len":18},{"lon":85,"lat":-70,"ang":90,"len":4},{"lon":90,"lat":-70,"ang":100,"len":4},{"lon":95,"lat":-70,"ang":125,"len":8},{"lon":100,"lat":-70,"ang":155,"len":8},{"lon":105,"lat":-70,"ang":170,"len":8},{"lon":110,"lat":-70,"ang":175,"len":12},{"lon":115,"lat":-70,"ang":180,"len":14},{"lon":120,"lat":-70,"ang":180,"len":14},{"lon":125,"lat":-70,"ang":180,"len":14},{"lon":130,"lat":-70,"ang":183,"len":14},{"lon":135,"lat":-70,"ang":183,"len":14},{"lon":140,"lat":-70,"ang":185,"len":12},
{"lon":40,"lat":-75,"ang":85,"len":8},{"lon":45,"lat":-75,"ang":90,"len":8},{"lon":50,"lat":-75,"ang":90,"len":6},{"lon":55,"lat":-75,"ang":90,"len":4},{"lon":60,"lat":-75,"ang":60,"len":4},{"lon":65,"lat":-75,"ang":65,"len":20},{"lon":70,"lat":-75,"ang":50,"len":14},{"lon":75,"lat":-75,"ang":60,"len":6},{"lon":80,"lat":-75,"ang":90,"len":4},{"lon":85,"lat":-75,"ang":95,"len":6},{"lon":90,"lat":-75,"ang":135,"len":6},{"lon":95,"lat":-75,"ang":150,"len":8},{"lon":100,"lat":-75,"ang":160,"len":10},{"lon":105,"lat":-75,"ang":170,"len":10},{"lon":110,"lat":-75,"ang":170,"len":10},{"lon":115,"lat":-75,"ang":180,"len":12},{"lon":120,"lat":-75,"ang":180,"len":14},{"lon":125,"lat":-75,"ang":180,"len":16},{"lon":130,"lat":-75,"ang":183,"len":14},{"lon":135,"lat":-75,"ang":183,"len":14},{"lon":140,"lat":-75,"ang":185,"len":12},
{"lon":40,"lat":-80,"ang":50,"len":8},{"lon":45,"lat":-80,"ang":60,"len":6},{"lon":50,"lat":-80,"ang":60,"len":6},{"lon":55,"lat":-80,"ang":45,"len":4},{"lon":60,"lat":-80,"ang":20,"len":4},{"lon":65,"lat":-80,"ang":0,"len":2},{"lon":70,"lat":-80,"ang":0,"len":2},{"lon":75,"lat":-80,"ang":0,"len":2},{"lon":80,"lat":-80,"ang":0,"len":2},{"lon":85,"lat":-80,"ang":0,"len":2},{"lon":90,"lat":-80,"ang":0,"len":2},{"lon":100,"lat":-80,"ang":0,"len":2},{"lon":110,"lat":-80,"ang":0,"len":2},{"lon":120,"lat":-80,"ang":0,"len":2}],
"qc":[{"lon":105,"lat":-50,"ang":265,"len":6},{"lon":110,"lat":-50,"ang":265,"len":8},{"lon":115,"lat":-50,"ang":255,"len":18},{"lon":120,"lat":-50,"ang":255,"len":18},{"lon":125,"lat":-50,"ang":265,"len":14},{"lon":130,"lat":-50,"ang":265,"len":14},{"lon":135,"lat":-50,"ang":268,"len":14},{"lon":140,"lat":-50,"ang":268,"len":14},
{"lon":45,"lat":-55,"ang":270,"len":6},{"lon":50,"lat":-55,"ang":280,"len":6},{"lon":55,"lat":-55,"ang":290,"len":8},{"lon":60,"lat":-55,"ang":330,"len":10},{"lon":65,"lat":-55,"ang":325,"len":16},{"lon":70,"lat":-55,"ang":320,"len":22},{"lon":75,"lat":-55,"ang":320,"len":24},{"lon":80,"lat":-55,"ang":320,"len":16},{"lon":85,"lat":-55,"ang":295,"len":16},{"lon":90,"lat":-55,"ang":275,"len":18},{"lon":95,"lat":-55,"ang":275,"len":22},{"lon":100,"lat":-55,"ang":275,"len":26},{"lon":105,"lat":-55,"ang":262,"len":26},{"lon":110,"lat":-55,"ang":262,"len":26},{"lon":115,"lat":-55,"ang":258,"len":28},{"lon":120,"lat":-55,"ang":258,"len":28},{"lon":125,"lat":-55,"ang":262,"len":22},{"lon":130,"lat":-55,"ang":262,"len":20},{"lon":135,"lat":-55,"ang":263,"len":20},{"lon":140,"lat":-55,"ang":265,"len":20},
{"lon":45,"lat":-60,"ang":280,"len":22},{"lon":50,"lat":-60,"ang":290,"len":20},{"lon":55,"lat":-60,"ang":305,"len":16},{"lon":60,"lat":-60,"ang":320,"len":10},{"lon":65,"lat":-60,"ang":310,"len":12},{"lon":70,"lat":-60,"ang":325,"len":18},{"lon":75,"lat":-60,"ang":318,"len":24},{"lon":80,"lat":-60,"ang":300,"len":28},{"lon":85,"lat":-60,"ang":270,"len":24},{"lon":90,"lat":-60,"ang":250,"len":30},{"lon":95,"lat":-60,"ang":258,"len":30},{"lon":100,"lat":-60,"ang":260,"len":34},{"lon":105,"lat":-60,"ang":263,"len":30},{"lon":110,"lat":-60,"ang":258,"len":30},{"lon":115,"lat":-60,"ang":252,"len":30},{"lon":120,"lat":-60,"ang":262,"len":28},{"lon":125,"lat":-60,"ang":275,"len":26},{"lon":130,"lat":-60,"ang":270,"len":22},{"lon":135,"lat":-60,"ang":270,"len":24},{"lon":140,"lat":-60,"ang":268,"len":28},
{"lon":45,"lat":-65,"ang":330,"len":6},{"lon":50,"lat":-65,"ang":350,"len":14},{"lon":55,"lat":-65,"ang":340,"len":14},{"lon":60,"lat":-65,"ang":335,"len":8},{"lon":65,"lat":-65,"ang":310,"len":4},{"lon":70,"lat":-65,"ang":320,"len":4},{"lon":75,"lat":-65,"ang":300,"len":10},{"lon":80,"lat":-65,"ang":290,"len":16},{"lon":85,"lat":-65,"ang":245,"len":28},{"lon":90,"lat":-65,"ang":245,"len":32},{"lon":95,"lat":-65,"ang":252,"len":34},{"lon":100,"lat":-65,"ang":258,"len":30},{"lon":105,"lat":-65,"ang":262,"len":28},{"lon":110,"lat":-65,"ang":263,"len":26},{"lon":115,"lat":-65,"ang":263,"len":24},{"lon":120,"lat":-65,"ang":265,"len":20},{"lon":125,"lat":-65,"ang":290,"len":22},{"lon":130,"lat":-65,"ang":290,"len":22},{"lon":135,"lat":-65,"ang":290,"len":22},{"lon":140,"lat":-65,"ang":290,"len":24},
{"lon":40,"lat":-69.5,"ang":0,"len":4},{"lon":45,"lat":-69.5,"ang":330,"len":4},{"lon":50,"lat":-70,"ang":325,"len":6},{"lon":55,"lat":-70,"ang":300,"len":6},{"lon":60,"lat":-70,"ang":285,"len":8},{"lon":65,"lat":-70,"ang":330,"len":12},{"lon":70,"lat":-70,"ang":230,"len":14},{"lon":75,"lat":-70,"ang":240,"len":20},{"lon":80,"lat":-70,"ang":235,"len":16},{"lon":85,"lat":-70,"ang":225,"len":12},{"lon":90,"lat":-70,"ang":250,"len":10},{"lon":95,"lat":-70,"ang":265,"len":8},{"lon":100,"lat":-70,"ang":270,"len":8},{"lon":105,"lat":-70,"ang":290,"len":4},{"lon":110,"lat":-70,"ang":320,"len":4},{"lon":115,"lat":-70,"ang":330,"len":4},{"lon":120,"lat":-70,"ang":340,"len":4},{"lon":125,"lat":-70,"ang":320,"len":4},{"lon":130,"lat":-70,"ang":320,"len":4},{"lon":135,"lat":-70,"ang":320,"len":6},{"lon":140,"lat":-70,"ang":325,"len":8},
{"lon":45,"lat":-75,"ang":270,"len":12},{"lon":50,"lat":-75,"ang":272,"len":14},{"lon":55,"lat":-75,"ang":275,"len":16},{"lon":60,"lat":-75,"ang":268,"len":16},{"lon":65,"lat":-75,"ang":240,"len":24},{"lon":70,"lat":-75,"ang":220,"len":16},{"lon":75,"lat":-75,"ang":265,"len":12},{"lon":80,"lat":-75,"ang":265,"len":10},{"lon":85,"lat":-75,"ang":270,"len":10},{"lon":90,"lat":-75,"ang":265,"len":14},{"lon":95,"lat":-75,"ang":270,"len":10},{"lon":100,"lat":-75,"ang":270,"len":8},{"lon":105,"lat":-75,"ang":280,"len":4},{"lon":110,"lat":-75,"ang":300,"len":4},{"lon":115,"lat":-75,"ang":300,"len":4},{"lon":120,"lat":-75,"ang":320,"len":4},{"lon":125,"lat":-75,"ang":10,"len":4},{"lon":130,"lat":-75,"ang":300,"len":4},{"lon":135,"lat":-75,"ang":300,"len":4},{"lon":140,"lat":-75,"ang":300,"len":4},
{"lon":45,"lat":-80,"ang":350,"len":6},{"lon":50,"lat":-80,"ang":350,"len":4},{"lon":55,"lat":-80,"ang":350,"len":6},{"lon":60,"lat":-80,"ang":0,"len":6},{"lon":65,"lat":-80,"ang":0,"len":4},{"lon":70,"lat":-80,"ang":0,"len":4},{"lon":75,"lat":-80,"ang":0,"len":4},{"lon":80,"lat":-80,"ang":0,"len":4},{"lon":85,"lat":-80,"ang":0,"len":4},{"lon":90,"lat":-80,"ang":0,"len":4},{"lon":100,"lat":-80,"ang":0,"len":4},{"lon":105,"lat":-80,"ang":0,"len":4},{"lon":110,"lat":-80,"ang":0,"len":4},{"lon":115,"lat":-80,"ang":0,"len":4},{"lon":120,"lat":-80,"ang":0,"len":4},{"lon":125,"lat":-80,"ang":0,"len":4},{"lon":130,"lat":-80,"ang":0,"len":4}],
"qd":[{"lon":80,"lat":-50,"ang":220,"len":6},{"lon":85,"lat":-50,"ang":210,"len":12},{"lon":90,"lat":-50,"ang":210,"len":16},{"lon":95,"lat":-50,"ang":205,"len":20},{"lon":100,"lat":-50,"ang":205,"len":26},{"lon":105,"lat":-50,"ang":195,"len":28},{"lon":110,"lat":-50,"ang":195,"len":24},{"lon":115,"lat":-50,"ang":198,"len":22},{"lon":120,"lat":-50,"ang":202,"len":18},{"lon":125,"lat":-50,"ang":205,"len":16},{"lon":130,"lat":-50,"ang":215,"len":8},
{"lon":45,"lat":-55,"ang":355,"len":12},{"lon":50,"lat":-55,"ang":340,"len":14},{"lon":55,"lat":-55,"ang":335,"len":14},{"lon":60,"lat":-55,"ang":330,"len":16},{"lon":65,"lat":-55,"ang":312,"len":14},{"lon":70,"lat":-55,"ang":285,"len":14},{"lon":75,"lat":-55,"ang":240,"len":12},{"lon":80,"lat":-55,"ang":205,"len":16},{"lon":85,"lat":-55,"ang":200,"len":14},{"lon":90,"lat":-55,"ang":195,"len":18},{"lon":95,"lat":-55,"ang":198,"len":26},{"lon":100,"lat":-55,"ang":200,"len":30},{"lon":105,"lat":-55,"ang":190,"len":22},{"lon":110,"lat":-55,"ang":188,"len":24},{"lon":115,"lat":-55,"ang":185,"len":26},{"lon":120,"lat":-55,"ang":178,"len":20},{"lon":125,"lat":-55,"ang":160,"len":12},{"lon":130,"lat":-55,"ang":120,"len":10},{"lon":135,"lat":-55,"ang":75,"len":14},
{"lon":45,"lat":-60,"ang":320,"len":8},{"lon":50,"lat":-60,"ang":315,"len":10},{"lon":55,"lat":-60,"ang":335,"len":16},{"lon":60,"lat":-60,"ang":320,"len":18},{"lon":65,"lat":-60,"ang":295,"len":18},{"lon":70,"lat":-60,"ang":290,"len":18},{"lon":75,"lat":-60,"ang":255,"len":18},{"lon":80,"lat":-60,"ang":235,"len":26},{"lon":85,"lat":-60,"ang":225,"len":32},{"lon":90,"lat":-60,"ang":225,"len":28},{"lon":95,"lat":-60,"ang":212,"len":38},{"lon":100,"lat":-60,"ang":210,"len":38},{"lon":105,"lat":-60,"ang":195,"len":24},{"lon":110,"lat":-60,"ang":185,"len":22},{"lon":115,"lat":-60,"ang":165,"len":16},{"lon":120,"lat":-60,"ang":135,"len":16},{"lon":125,"lat":-60,"ang":110,"len":18},{"lon":130,"lat":-60,"ang":90,"len":24},{"lon":135,"lat":-60,"ang":72,"len":28},
{"lon":45,"lat":-65,"ang":295,"len":16},{"lon":50,"lat":-65,"ang":300,"len":12},{"lon":55,"lat":-65,"ang":305,"len":16},{"lon":60,"lat":-65,"ang":295,"len":16},{"lon":65,"lat":-65,"ang":270,"len":20},{"lon":70,"lat":-65,"ang":265,"len":22},{"lon":75,"lat":-65,"ang":255,"len":24},{"lon":80,"lat":-65,"ang":238,"len":30},{"lon":85,"lat":-65,"ang":232,"len":30},{"lon":90,"lat":-65,"ang":240,"len":28},{"lon":95,"lat":-65,"ang":250,"len":28},{"lon":100,"lat":-65,"ang":235,"len":30},{"lon":105,"lat":-65,"ang":240,"len":12},{"lon":110,"lat":-65,"ang":160,"len":6},{"lon":115,"lat":-65,"ang":170,"len":8},{"lon":120,"lat":-65,"ang":120,"len":10},{"lon":125,"lat":-65,"ang":70,"len":28},{"lon":130,"lat":-65,"ang":70,"len":36},{"lon":135,"lat":-65,"ang":65,"len":30},
{"lon":45,"lat":-70,"ang":300,"len":8},{"lon":50,"lat":-70,"ang":290,"len":6},{"lon":55,"lat":-70,"ang":280,"len":12},{"lon":60,"lat":-70,"ang":280,"len":12},{"lon":65,"lat":-70,"ang":300,"len":12},{"lon":70,"lat":-70,"ang":220,"len":22},{"lon":75,"lat":-70,"ang":258,"len":14},{"lon":80,"lat":-70,"ang":270,"len":14},{"lon":90,"lat":-70,"ang":285,"len":4},{"lon":95,"lat":-70,"ang":330,"len":4},{"lon":100,"lat":-70,"ang":0,"len":8},{"lon":105,"lat":-70,"ang":8,"len":12},{"lon":110,"lat":-70,"ang":25,"len":16},{"lon":115,"lat":-70,"ang":5,"len":14},{"lon":120,"lat":-70,"ang":15,"len":12},{"lon":125,"lat":-70,"ang":22,"len":18},{"lon":130,"lat":-70,"ang":22,"len":18},{"lon":135,"lat":-70,"ang":28,"len":18},
{"lon":45,"lat":-75,"ang":270,"len":8},{"lon":65,"lat":-75,"ang":300,"len":4},{"lon":70,"lat":-75,"ang":300,"len":2},{"lon":75,"lat":-75,"ang":300,"len":2},{"lon":85,"lat":-75,"ang":30,"len":4},{"lon":90,"lat":-75,"ang":55,"len":4},{"lon":95,"lat":-75,"ang":55,"len":12},{"lon":100,"lat":-75,"ang":50,"len":12},{"lon":105,"lat":-75,"ang":30,"len":10},{"lon":110,"lat":-75,"ang":28,"len":12},{"lon":115,"lat":-75,"ang":20,"len":10},{"lon":120,"lat":-75,"ang":3,"len":14},{"lon":125,"lat":-75,"ang":3,"len":16},{"lon":130,"lat":-75,"ang":3,"len":16},{"lon":135,"lat":-75,"ang":3,"len":16},{"lon":140,"lat":-75,"ang":350,"len":14},
{"lon":45,"lat":-80,"ang":10,"len":2},{"lon":60,"lat":-80,"ang":0,"len":2},{"lon":65,"lat":-80,"ang":0,"len":4},{"lon":70,"lat":-80,"ang":5,"len":4},{"lon":75,"lat":-80,"ang":0,"len":8},{"lon":80,"lat":-80,"ang":0,"len":10},{"lon":85,"lat":-80,"ang":0,"len":12},{"lon":90,"lat":-80,"ang":0,"len":10},{"lon":95,"lat":-80,"ang":0,"len":10},{"lon":100,"lat":-80,"ang":0,"len":10},{"lon":105,"lat":-80,"ang":355,"len":10},{"lon":110,"lat":-80,"ang":350,"len":12},{"lon":115,"lat":-80,"ang":345,"len":12},{"lon":120,"lat":-80,"ang":340,"len":12},{"lon":125,"lat":-80,"ang":340,"len":14},{"lon":130,"lat":-80,"ang":330,"len":16},{"lon":135,"lat":-80,"ang":335,"len":16},{"lon":140,"lat":-80,"ang":335,"len":14}]
},
"hconcat":[{"spacing":13,"hconcat":[{"spacing":23.5,"vconcat":[
{"title":"(a) MBS upper quartile","width":518,"height":155,"layer":[
{"data":{"name":"fa"},"mark":{"type":"area","interpolate":"monotone","clip":true},"encoding":{"x":{"field":"lon","type":"quantitative","scale":{"domain":[40,140],"nice":false,"zero":false},"axis":{"title":null,"values":[60,80,100,120],"tickCount":4,"labelExpr":"datum.value+'°E'","labelOverlap":false}},"y":{"field":"lat","type":"quantitative","scale":{"domain":[-80,-50],"nice":false,"zero":false},"axis":{"title":null,"values":[-55,-60,-65,-70,-75],"tickCount":5,"labelExpr":"abs(datum.value)+'°S'","labelOverlap":false}},"y2":{"field":"lat2"},"color":{"field":"v","type":"nominal","legend":null,"scale":{"domain":["n4","n3","n2","n1","p1","p2","p3","p4"],"range":["#5f1a6a","#9264a3","#c3a5d0","#ece1ee","#e3f1df","#abdda4","#4ea15c","#106530"]}},"detail":{"field":"r"}}},
{"data":{"name":"gx"},"mark":{"type":"rule","stroke":"#666","strokeDash":[5,3],"strokeWidth":1,"opacity":0.8},"encoding":{"x":{"field":"lon","type":"quantitative"}}},
{"data":{"name":"gy"},"mark":{"type":"rule","stroke":"#666","strokeDash":[5,3],"strokeWidth":1,"opacity":0.8},"encoding":{"y":{"field":"lat","type":"quantitative"}}},
{"data":{"name":"qa"},"mark":{"type":"point","filled":true,"size":4,"opacity":1,"fill":"#111","strokeWidth":0,"clip":true},"encoding":{"x":{"field":"lon","type":"quantitative"},"y":{"field":"lat","type":"quantitative"},"angle":{"field":"ang","type":"quantitative","scale":null},"shape":{"field":"len","type":"ordinal","legend":null,"scale":{"domain":[2,4,6,8,10,12,14,16,18,20,22,24,26,28,30,32,34,36,38,40,42],"range":["M-1,0L0,-2L1,0Z","M-2,0L0,-4L2,0Z","M-2.8,0L0,-6L2.8,0Z","M-3.4,0L0,-8L3.4,0Z","M-1.1,0L-1.1,-2L-3.8,-1L0,-10L3.8,-1L1.1,-2L1.1,0Z","M-1.1,0L-1.1,-4L-3.8,-3L0,-12L3.8,-3L1.1,-4L1.1,0Z","M-1.1,0L-1.1,-6L-3.8,-5L0,-14L3.8,-5L1.1,-6L1.1,0Z","M-1.1,0L-1.1,-8L-3.8,-7L0,-16L3.8,-7L1.1,-8L1.1,0Z","M-1.1,0L-1.1,-10L-3.8,-9L0,-18L3.8,-9L1.1,-10L1.1,0Z","M-1.1,0L-1.1,-12L-3.8,-11L0,-20L3.8,-11L1.1,-12L1.1,0Z","M-1.1,0L-1.1,-14L-3.8,-13L0,-22L3.8,-13L1.1,-14L1.1,0Z","M-1.1,0L-1.1,-16L-3.8,-15L0,-24L3.8,-15L1.1,-16L1.1,0Z","M-1.1,0L-1.1,-18L-3.8,-17L0,-26L3.8,-17L1.1,-18L1.1,0Z","M-1.1,0L-1.1,-20L-3.8,-19L0,-28L3.8,-19L1.1,-20L1.1,0Z","M-1.1,0L-1.1,-22L-3.8,-21L0,-30L3.8,-21L1.1,-22L1.1,0Z","M-1.1,0L-1.1,-24L-3.8,-23L0,-32L3.8,-23L1.1,-24L1.1,0Z","M-1.1,0L-1.1,-26L-3.8,-25L0,-34L3.8,-25L1.1,-26L1.1,0Z","M-1.1,0L-1.1,-28L-3.8,-27L0,-36L3.8,-27L1.1,-28L1.1,0Z","M-1.1,0L-1.1,-30L-3.8,-29L0,-38L3.8,-29L1.1,-30L1.1,0Z","M-1.1,0L-1.1,-32L-3.8,-31L0,-40L3.8,-31L1.1,-32L1.1,0Z","M-1.1,0L-1.1,-34L-3.8,-33L0,-42L3.8,-33L1.1,-34L1.1,0Z"]}}}},
{"data":{"name":"coast"},"mark":{"type":"line","stroke":"#0000ff","strokeWidth":2,"clip":true},"encoding":{"x":{"field":"lon","type":"quantitative"},"y":{"field":"lat","type":"quantitative"},"order":{"field":"i"}}},
{"data":{"name":"isl"},"mark":{"type":"circle","color":"#0000ff","size":16,"opacity":1},"encoding":{"x":{"field":"lon","type":"quantitative"},"y":{"field":"lat","type":"quantitative"}}},
{"data":{"name":"mbs"},"mark":{"type":"circle","color":"#0000ff","size":38,"opacity":1},"encoding":{"x":{"field":"lon","type":"quantitative"},"y":{"field":"lat","type":"quantitative"}}},
{"data":{"name":"mbsl"},"mark":{"type":"text","color":"#0000ff","fontWeight":"bold","fontSize":12.5},"encoding":{"x":{"field":"lon","type":"quantitative"},"y":{"field":"lat","type":"quantitative"},"text":{"field":"label"}}}]},
{"title":"(c) MBS lower quartile","width":518,"height":155,"layer":[
{"data":{"name":"fc"},"mark":{"type":"area","interpolate":"monotone","clip":true},"encoding":{"x":{"field":"lon","type":"quantitative","scale":{"domain":[40,140],"nice":false,"zero":false},"axis":{"title":null,"values":[60,80,100,120],"tickCount":4,"labelExpr":"datum.value+'°E'","labelOverlap":false}},"y":{"field":"lat","type":"quantitative","scale":{"domain":[-80,-50],"nice":false,"zero":false},"axis":{"title":null,"values":[-55,-60,-65,-70,-75],"tickCount":5,"labelExpr":"abs(datum.value)+'°S'","labelOverlap":false}},"y2":{"field":"lat2"},"color":{"field":"v","type":"nominal","legend":null},"detail":{"field":"r"}}},
{"data":{"name":"gx"},"mark":{"type":"rule","stroke":"#666","strokeDash":[5,3],"strokeWidth":1,"opacity":0.8},"encoding":{"x":{"field":"lon","type":"quantitative"}}},
{"data":{"name":"gy"},"mark":{"type":"rule","stroke":"#666","strokeDash":[5,3],"strokeWidth":1,"opacity":0.8},"encoding":{"y":{"field":"lat","type":"quantitative"}}},
{"data":{"name":"qc"},"mark":{"type":"point","filled":true,"size":4,"opacity":1,"fill":"#111","strokeWidth":0,"clip":true},"encoding":{"x":{"field":"lon","type":"quantitative"},"y":{"field":"lat","type":"quantitative"},"angle":{"field":"ang","type":"quantitative","scale":null},"shape":{"field":"len","type":"ordinal","legend":null}}},
{"data":{"name":"coast"},"mark":{"type":"line","stroke":"#0000ff","strokeWidth":2,"clip":true},"encoding":{"x":{"field":"lon","type":"quantitative"},"y":{"field":"lat","type":"quantitative"},"order":{"field":"i"}}},
{"data":{"name":"isl"},"mark":{"type":"circle","color":"#0000ff","size":16,"opacity":1},"encoding":{"x":{"field":"lon","type":"quantitative"},"y":{"field":"lat","type":"quantitative"}}},
{"data":{"name":"mbs"},"mark":{"type":"circle","color":"#0000ff","size":38,"opacity":1},"encoding":{"x":{"field":"lon","type":"quantitative"},"y":{"field":"lat","type":"quantitative"}}},
{"data":{"name":"mbsl"},"mark":{"type":"text","color":"#0000ff","fontWeight":"bold","fontSize":12.5},"encoding":{"x":{"field":"lon","type":"quantitative"},"y":{"field":"lat","type":"quantitative"},"text":{"field":"label"}}}]}
]},
{"spacing":23.5,"vconcat":[
{"title":"(b) Niño3.4 upper quartile","width":518,"height":155,"layer":[
{"data":{"name":"fb"},"mark":{"type":"area","interpolate":"monotone","clip":true},"encoding":{"x":{"field":"lon","type":"quantitative","scale":{"domain":[40,140],"nice":false,"zero":false},"axis":{"title":null,"values":[60,80,100,120],"tickCount":4,"labelExpr":"datum.value+'°E'","labelOverlap":false}},"y":{"field":"lat","type":"quantitative","scale":{"domain":[-80,-50],"nice":false,"zero":false},"axis":{"title":null,"values":[-55,-60,-65,-70,-75],"tickCount":5,"labelExpr":"abs(datum.value)+'°S'","labelOverlap":false}},"y2":{"field":"lat2"},"color":{"field":"v","type":"nominal","legend":null},"detail":{"field":"r"}}},
{"data":{"name":"gx"},"mark":{"type":"rule","stroke":"#666","strokeDash":[5,3],"strokeWidth":1,"opacity":0.8},"encoding":{"x":{"field":"lon","type":"quantitative"}}},
{"data":{"name":"gy"},"mark":{"type":"rule","stroke":"#666","strokeDash":[5,3],"strokeWidth":1,"opacity":0.8},"encoding":{"y":{"field":"lat","type":"quantitative"}}},
{"data":{"name":"qb"},"mark":{"type":"point","filled":true,"size":4,"opacity":1,"fill":"#111","strokeWidth":0,"clip":true},"encoding":{"x":{"field":"lon","type":"quantitative"},"y":{"field":"lat","type":"quantitative"},"angle":{"field":"ang","type":"quantitative","scale":null},"shape":{"field":"len","type":"ordinal","legend":null}}},
{"data":{"name":"coast"},"mark":{"type":"line","stroke":"#0000ff","strokeWidth":2,"clip":true},"encoding":{"x":{"field":"lon","type":"quantitative"},"y":{"field":"lat","type":"quantitative"},"order":{"field":"i"}}},
{"data":{"name":"isl"},"mark":{"type":"circle","color":"#0000ff","size":16,"opacity":1},"encoding":{"x":{"field":"lon","type":"quantitative"},"y":{"field":"lat","type":"quantitative"}}},
{"data":{"name":"mbs"},"mark":{"type":"circle","color":"#0000ff","size":38,"opacity":1},"encoding":{"x":{"field":"lon","type":"quantitative"},"y":{"field":"lat","type":"quantitative"}}},
{"data":{"name":"mbsl"},"mark":{"type":"text","color":"#0000ff","fontWeight":"bold","fontSize":12.5},"encoding":{"x":{"field":"lon","type":"quantitative"},"y":{"field":"lat","type":"quantitative"},"text":{"field":"label"}}}]},
{"title":"(d) Niño3.4 lower quartile","width":518,"height":155,"layer":[
{"data":{"name":"fd"},"mark":{"type":"area","interpolate":"monotone","clip":true},"encoding":{"x":{"field":"lon","type":"quantitative","scale":{"domain":[40,140],"nice":false,"zero":false},"axis":{"title":null,"values":[60,80,100,120],"tickCount":4,"labelExpr":"datum.value+'°E'","labelOverlap":false}},"y":{"field":"lat","type":"quantitative","scale":{"domain":[-80,-50],"nice":false,"zero":false},"axis":{"title":null,"values":[-55,-60,-65,-70,-75],"tickCount":5,"labelExpr":"abs(datum.value)+'°S'","labelOverlap":false}},"y2":{"field":"lat2"},"color":{"field":"v","type":"nominal","legend":null},"detail":{"field":"r"}}},
{"data":{"name":"gx"},"mark":{"type":"rule","stroke":"#666","strokeDash":[5,3],"strokeWidth":1,"opacity":0.8},"encoding":{"x":{"field":"lon","type":"quantitative"}}},
{"data":{"name":"gy"},"mark":{"type":"rule","stroke":"#666","strokeDash":[5,3],"strokeWidth":1,"opacity":0.8},"encoding":{"y":{"field":"lat","type":"quantitative"}}},
{"data":{"name":"qd"},"mark":{"type":"point","filled":true,"size":4,"opacity":1,"fill":"#111","strokeWidth":0,"clip":true},"encoding":{"x":{"field":"lon","type":"quantitative"},"y":{"field":"lat","type":"quantitative"},"angle":{"field":"ang","type":"quantitative","scale":null},"shape":{"field":"len","type":"ordinal","legend":null}}},
{"data":{"name":"coast"},"mark":{"type":"line","stroke":"#0000ff","strokeWidth":2,"clip":true},"encoding":{"x":{"field":"lon","type":"quantitative"},"y":{"field":"lat","type":"quantitative"},"order":{"field":"i"}}},
{"data":{"name":"isl"},"mark":{"type":"circle","color":"#0000ff","size":16,"opacity":1},"encoding":{"x":{"field":"lon","type":"quantitative"},"y":{"field":"lat","type":"quantitative"}}},
{"data":{"name":"mbs"},"mark":{"type":"circle","color":"#0000ff","size":38,"opacity":1},"encoding":{"x":{"field":"lon","type":"quantitative"},"y":{"field":"lat","type":"quantitative"}}},
{"data":{"name":"mbsl"},"mark":{"type":"text","color":"#0000ff","fontWeight":"bold","fontSize":12.5},"encoding":{"x":{"field":"lon","type":"quantitative"},"y":{"field":"lat","type":"quantitative"},"text":{"field":"label"}}}]}
]}]},
{"width":15,"height":318,"view":{"stroke":null},"layer":[
{"data":{"name":"bar"},"mark":{"type":"rect"},"encoding":{"y":{"field":"lo","type":"quantitative","scale":{"domain":[-3.2,4.12],"nice":false,"zero":false},"axis":{"orient":"right","title":"MSLP anomaly [hPa]","titleFontSize":13,"titleFontWeight":"normal","titleY":173.5,"titlePadding":4,"labelOverlap":false,"tickCount":9,"values":[-3.2,-2.4,-1.6,-0.8,0,0.8,1.6,2.4,3.2],"format":".1f","ticks":true,"tickSize":4,"tickColor":"#000"}},"y2":{"field":"hi"},"color":{"field":"v","type":"nominal","legend":null}}},
{"data":{"name":"frame"},"mark":{"type":"rect","filled":false,"stroke":"#111","strokeWidth":1},"encoding":{"y":{"field":"lo","type":"quantitative"},"y2":{"field":"hi"}}}
]}
]}
